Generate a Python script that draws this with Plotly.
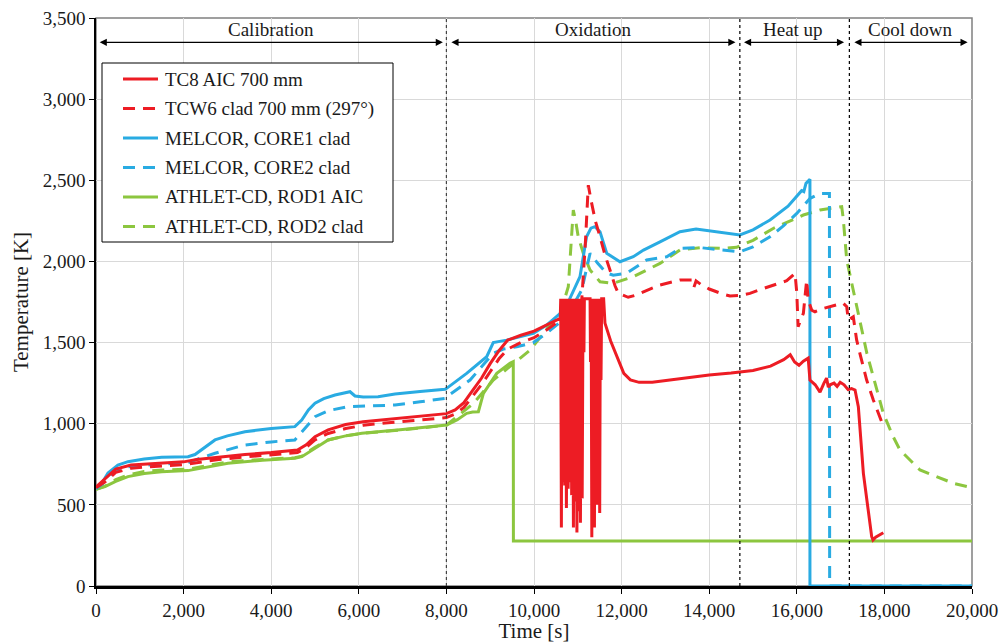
import plotly.graph_objects as go

# ---- measured / simulated temperatures: (time [s], temperature [K]) ----
tc8_aic = [
    (0, 610), (200, 660), (450, 720), (800, 745), (1200, 752), (1600, 758), (2000, 765),
    (2300, 780), (2800, 795), (3400, 810), (4000, 822), (4600, 838), (4800, 870), (5000, 920),
    (5300, 962), (5700, 995), (6100, 1012), (6600, 1025), (7200, 1040), (7700, 1055), (8000, 1062),
    (8200, 1085), (8400, 1130), (8600, 1205), (8800, 1280), (9000, 1370), (9200, 1450), (9400, 1515),
    (9700, 1545), (10000, 1570), (10300, 1610), (10600, 1650),
    (10610, 1770), (10625, 360), (10640, 1770), (10660, 640), (10680, 1770), (10700, 620),
    (10720, 1770), (10740, 480), (10760, 1770), (10780, 600), (10800, 1770), (10820, 640),
    (10840, 1770), (10860, 560), (10880, 1770), (10900, 360), (10920, 1770), (10940, 520),
    (10960, 1770), (10980, 330), (11000, 1770), (11020, 460), (11040, 1770), (11060, 390),
    (11080, 1770), (11100, 540), (11120, 1770), (11140, 1440), (11150, 1770), (11280, 1770),
    (11290, 1380), (11305, 1770), (11320, 300), (11335, 1770), (11350, 550), (11365, 1770),
    (11380, 360), (11395, 1770), (11410, 700), (11425, 1770), (11440, 500), (11455, 1770),
    (11470, 620), (11485, 1770), (11500, 450), (11515, 1770), (11530, 1270), (11545, 1770),
    (11590, 1770),
    (11620, 1620), (11750, 1510), (11900, 1410), (12050, 1310), (12200, 1270), (12400, 1255),
    (12700, 1255), (13000, 1265), (13500, 1285), (14000, 1300), (14500, 1312), (15000, 1328),
    (15400, 1355), (15700, 1395), (15850, 1425), (15950, 1380), (16050, 1360), (16150, 1385),
    (16260, 1404), (16300, 1269), (16420, 1240), (16530, 1195), (16620, 1250), (16680, 1281),
    (16720, 1225), (16760, 1240), (16850, 1250), (16920, 1230), (16990, 1255), (17080, 1240),
    (17170, 1210), (17250, 1217), (17330, 1208), (17405, 1105), (17520, 694), (17630, 448),
    (17710, 304), (17740, 283), (17800, 300), (17975, 328),
]

tcw6_clad = [
    (0, 605), (200, 640), (450, 700), (800, 725), (1200, 735), (1600, 742), (2000, 748),
    (2300, 760), (2800, 780), (3400, 795), (4000, 808), (4600, 822), (4800, 855), (5000, 900),
    (5300, 940), (5700, 970), (6100, 990), (6600, 1005), (7200, 1018), (7700, 1030), (8000, 1038),
    (8200, 1060), (8400, 1100), (8600, 1170), (8800, 1240), (9000, 1320), (9200, 1400),
    (9400, 1460), (9700, 1500), (10000, 1530), (10300, 1580), (10600, 1640), (10800, 1700),
    (11000, 1740), (11090, 1762), (11170, 2100), (11240, 2470), (11300, 2380), (11400, 2250),
    (11507, 2152), (11620, 2040), (11735, 1947), (11850, 1850), (11925, 1803), (12150, 1779),
    (12300, 1790), (12500, 1814), (12877, 1855), (13330, 1885), (13600, 1885), (13650, 1840),
    (13700, 1880), (13800, 1860), (14000, 1830), (14300, 1800), (14475, 1787), (14700, 1790),
    (14930, 1803), (15200, 1830), (15460, 1855), (15770, 1881), (15960, 1927), (16000, 1805),
    (16030, 1598), (16100, 1640), (16150, 1680), (16225, 1885), (16260, 1762), (16340, 1700),
    (16415, 1690), (16600, 1710), (16760, 1721), (16900, 1735), (17055, 1743), (17140, 1721),
    (17175, 1639), (17290, 1659), (17366, 1516), (17440, 1434), (17595, 1269), (17747, 1146),
    (17937, 1012), (18000, 990),
]

melcor_core1 = [
    (0, 600), (150, 640), (274, 696), (500, 745), (730, 766), (1100, 782), (1500, 793),
    (2100, 797), (2260, 810), (2500, 860), (2717, 900), (3000, 925), (3400, 951), (4000, 970),
    (4540, 982), (4697, 1023), (4850, 1085), (5000, 1126), (5200, 1155), (5457, 1177),
    (5800, 1197), (5913, 1171), (6100, 1165), (6440, 1166), (6826, 1183), (7400, 1198),
    (7968, 1212), (8005, 1218), (8462, 1310), (8920, 1413), (9070, 1500), (9377, 1515),
    (9985, 1557), (10300, 1610), (10600, 1680), (10800, 1760), (11050, 1906), (11200, 2152),
    (11300, 2205), (11390, 2214), (11507, 2183), (11660, 2050), (11963, 1998), (12267, 2029),
    (12500, 2070), (12877, 2121), (13333, 2183), (13700, 2200), (14200, 2180), (14700, 2163),
    (15000, 2195), (15388, 2255), (15800, 2340), (16110, 2436), (16160, 2430), (16210, 2481),
    (16300, 2506), (16300, 0), (20000, 0),
]

melcor_core2 = [
    (0, 600), (150, 630), (400, 700), (730, 735), (1400, 750), (2100, 760), (2400, 790),
    (2717, 818), (3400, 869), (4000, 888), (4540, 900), (4700, 950), (5000, 1043), (5300, 1080),
    (5750, 1105), (6300, 1110), (6826, 1115), (7400, 1135), (7968, 1156), (8005, 1166),
    (8540, 1269), (9070, 1434), (9300, 1460), (9605, 1474), (9985, 1500), (10300, 1560),
    (10745, 1659), (11090, 1824), (11280, 2050), (11450, 1990), (11650, 1930), (11810, 1915),
    (12115, 1927), (12572, 2009), (13030, 2029), (13333, 2080), (13800, 2085), (14300, 2070),
    (14700, 2060), (15000, 2090), (15388, 2152), (15700, 2220), (16000, 2296), (16300, 2388),
    (16530, 2419), (16745, 2419), (16750, 0), (20000, 0),
]

athlet_rod1 = [
    (0, 595), (205, 612), (450, 645), (730, 674), (1100, 693), (1500, 704), (2100, 711),
    (2500, 730), (3014, 756), (3800, 775), (4540, 787), (4700, 797), (5000, 850), (5300, 900),
    (5700, 925), (6070, 941), (7000, 965), (7968, 992), (8005, 992), (8250, 1025), (8462, 1064),
    (8600, 1072), (8730, 1074), (8845, 1187), (9150, 1310), (9450, 1372), (9527, 1382),
    (9530, 277), (20000, 277),
]

athlet_rod2 = [
    (0, 595), (205, 615), (450, 655), (730, 685), (1100, 705), (1500, 715), (2100, 720),
    (2500, 740), (3014, 765), (3800, 780), (4540, 790), (4700, 800), (5000, 855), (5300, 900),
    (5700, 925), (6070, 940), (7000, 962), (7968, 990), (8005, 992), (8615, 1125), (9070, 1269),
    (9680, 1403), (9910, 1454), (10365, 1608), (10600, 1680), (10783, 1844), (10860, 2132),
    (10897, 2317), (10950, 2250), (11010, 2152), (11125, 2050), (11280, 1947), (11507, 1875),
    (11810, 1865), (12267, 1906), (12877, 1988), (13333, 2070), (13800, 2085), (14300, 2080),
    (14625, 2087), (15000, 2130), (15460, 2203), (16150, 2286), (16530, 2317), (17025, 2337),
    (17060, 2265), (17140, 2009), (17365, 1721), (17600, 1434), (17975, 1064), (18200, 920),
    (18356, 838), (18813, 715), (19573, 633), (20000, 606),
]

# ---- test phases: (label, start [s], end [s]) ----
phase_bounds = [8000, 14700, 17200]
phases = [
    ("Calibration", 50, 7920),
    ("Oxidation", 8080, 14600),
    ("Heat up", 14760, 17080),
    ("Cool down", 17280, 19900),
]
phase_arrow_T = 3350
phase_label_T = 3430

RED = "#ED1C24"
BLUE = "#29ABE2"
GREEN = "#8CC63F"
DASH = "12px,8px"
FONT = "Liberation Serif, Times New Roman, Times, serif"
TEXT = "#1a1a1a"

series = [
    ("TC8 AIC 700 mm", tc8_aic, RED, "solid"),
    ("TCW6 clad 700 mm (297°)", tcw6_clad, RED, DASH),
    ("MELCOR, CORE1 clad", melcor_core1, BLUE, "solid"),
    ("MELCOR, CORE2 clad", melcor_core2, BLUE, DASH),
    ("ATHLET-CD, ROD1 AIC", athlet_rod1, GREEN, "solid"),
    ("ATHLET-CD, ROD2 clad", athlet_rod2, GREEN, DASH),
]

# plot-area geometry in pixels (used for the boxed key in the upper left)
W, H = 1000, 643
ML, MR, MT, MB = 96, 28, 18, 57
PW, PH = W - ML - MR, H - MT - MB


def px_x(px):
    return (px - ML) / PW


def px_y(py):
    return (H - MB - py) / PH


fig = go.Figure()

# green at the back, then blue, red on top
draw_order = [4, 5, 2, 3, 1, 0]
for i in draw_order:
    name, pts, color, dash = series[i]
    t, T = zip(*pts)
    fig.add_trace(go.Scatter(
        x=list(t), y=list(T), mode="lines", name=name,
        line=dict(color=color, width=3, dash=dash),
        showlegend=False,
    ))

# phase boundaries
for k, xb in enumerate(phase_bounds):
    fig.add_shape(type="line", xref="x", yref="y", x0=xb, x1=xb, y0=0, y1=3500,
                  line=dict(color="#444444" if k == 0 else "black", width=1.2, dash="dot"),
                  layer="above")

# phase arrows and labels
for label, x0, x1 in phases:
    fig.add_annotation(x=x1, y=phase_arrow_T, ax=x0, ay=phase_arrow_T,
                       xref="x", yref="y", axref="x", ayref="y",
                       showarrow=True, arrowhead=2, arrowsize=1.1, arrowwidth=1.3,
                       arrowcolor="black", arrowside="end+start", text="")
    fig.add_annotation(x=(x0 + x1) / 2, y=phase_label_T, xref="x", yref="y",
                       text=label, showarrow=False,
                       font=dict(family=FONT, size=19, color=TEXT))

# grey frame on top / right
fig.add_shape(type="rect", xref="paper", yref="paper", x0=0, x1=1, y0=0, y1=1,
              line=dict(color="#808080", width=1.5), layer="below")

# boxed key
key_box = (102, 63, 393, 242)           # left, top, right, bottom [px]
key_row0, key_step = 79, 29.5           # first row centre and row pitch [px]
key_line = (123, 158)                   # sample line span [px]
key_text_x = 163
fig.add_shape(type="rect", xref="paper", yref="paper",
              x0=px_x(key_box[0]), x1=px_x(key_box[2]),
              y0=px_y(key_box[3]), y1=px_y(key_box[1]),
              line=dict(color="black", width=1), fillcolor="white", layer="above")
for r, (name, _, color, dash) in enumerate(series):
    yc = key_row0 + r * key_step
    fig.add_shape(type="line", xref="paper", yref="paper",
                  x0=px_x(key_line[0]), x1=px_x(key_line[1]),
                  y0=px_y(yc), y1=px_y(yc),
                  line=dict(color=color, width=3, dash=dash), layer="above")
    fig.add_annotation(x=px_x(key_text_x), y=px_y(yc), xref="paper", yref="paper",
                       text=name, showarrow=False, xanchor="left", yanchor="middle",
                       font=dict(family=FONT, size=19, color=TEXT))

fig.update_layout(
    width=W, height=H,
    margin=dict(l=ML, r=MR, t=MT, b=MB),
    plot_bgcolor="white", paper_bgcolor="white",
    font=dict(family=FONT, size=19, color=TEXT),
    showlegend=False,
    xaxis=dict(
        range=[0, 20000], dtick=2000, tick0=0, tickformat=",d",
        showgrid=True, gridcolor="#d9d9d9", gridwidth=1,
        showline=True, linecolor="black", linewidth=2.5,
        ticks="outside", ticklen=5, tickcolor="black", tickwidth=1,
        zeroline=False, automargin=False,
        title=dict(text="Time [s]", font=dict(family=FONT, size=21), standoff=6),
        tickfont=dict(family=FONT, size=19),
    ),
    yaxis=dict(
        range=[0, 3500], dtick=500, tick0=0, tickformat=",d",
        showgrid=True, gridcolor="#d9d9d9", gridwidth=1,
        showline=True, linecolor="black", linewidth=1.5,
        ticks="outside", ticklen=5, tickcolor="black", tickwidth=1,
        zeroline=False, automargin=False,
        title=dict(text="Temperature [K]", font=dict(family=FONT, size=21), standoff=8),
        tickfont=dict(family=FONT, size=19),
    ),
)

fig.write_html("out.html")
